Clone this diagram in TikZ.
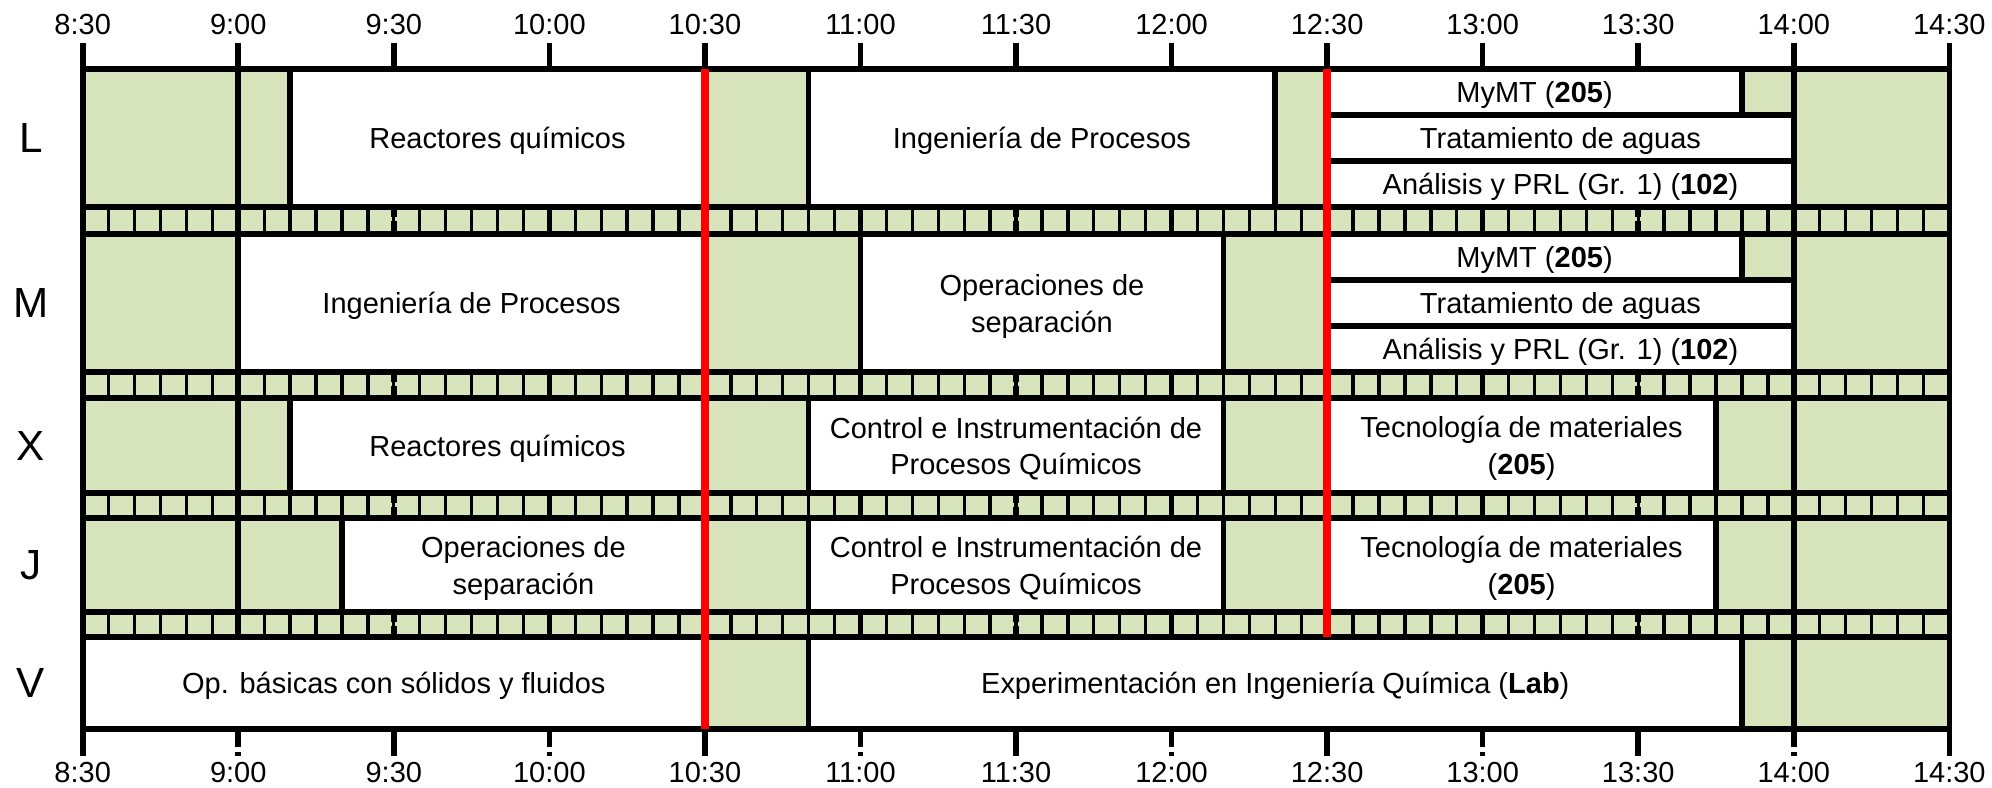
\documentclass[tikz,border=0pt]{standalone}
\usepackage{fontspec}
\setmainfont{Liberation Sans}
\definecolor{verde}{RGB}{216,228,188}

\begin{document}
\begin{tikzpicture}[x=0.1037cm,y=-0.02cm,
    linea/.style={line width=3.2pt},
    fina/.style={line width=1.9pt},
    caja/.style={fill=white,draw=black,line width=3.2pt},
    texto/.style={align=center,font=\fontsize{16.5}{21}\selectfont},
    hora/.style={font=\fontsize{16.5}{20}\selectfont},
    dia/.style={font=\fontsize{24}{28}\selectfont},
    pausa/.style={draw=red,line width=4.6pt}]
   \useasboundingbox (-15.95,0) rectangle (368.23,787);
   % fondo
   \fill[verde] (0,69) rectangle (360,729);
   % asignaturas
   \foreach \n/\a/\b/\u/\v/\t in {
      lReac/40/120/69/207/{Reactores químicos},
      lIngP/140/230/69/207/{Ingeniería de Procesos},
      lMymt/240/320/69/115/{MyMT (\textbf{205})},
      lTrat/240/330/115/161/{Tratamiento de aguas},
      lAnal/240/330/161/207/{Análisis y PRL (Gr. 1) (\textbf{102})},
      mIngP/30/120/234/372/{Ingeniería de Procesos},
      mOper/150/220/234/372/{Operaciones de\\separación},
      mMymt/240/320/234/280/{MyMT (\textbf{205})},
      mTrat/240/330/280/326/{Tratamiento de aguas},
      mAnal/240/330/326/372/{Análisis y PRL (Gr. 1) (\textbf{102})},
      xReac/40/120/398/493/{Reactores químicos},
      xCont/140/220/398/493/{Control e Instrumentación de\\Procesos Químicos},
      xTecn/240/315/398/493/{Tecnología de materiales\\(\textbf{205})},
      jOper/50/120/518/612/{Operaciones de\\separación},
      jCont/140/220/518/612/{Control e Instrumentación de\\Procesos Químicos},
      jTecn/240/315/518/612/{Tecnología de materiales\\(\textbf{205})},
      vOpBa/0/120/637/729/{Op. básicas con sólidos y fluidos},
      vExpe/140/320/637/729/{Experimentación en Ingeniería Química (\textbf{Lab})}}
   {
      \draw[caja] (\a,\u) rectangle (\b,\v);
      \node[texto] (\n) at ({(\a+\b)/2},{(\u+\v)/2+3}) {\t};
   }
   % descansos
   \foreach \y/\z in {207/234,372/398,493/518,612/637} {
      \foreach \m in {5,10,...,355}
         \draw[fina] (\m,\y) -- (\m,\z);
      \foreach \m in {30,90,...,330}
         \draw[linea] (\m,\y) -- (\m,\z);
      \foreach \m in {60,180,300}
         \draw[linea,dash pattern=on 5.5pt off 2.5pt] (\m,\y) -- (\m,\z);
   }
   % separadores
   \foreach \y/\z in {69/207,398/493,518/612}
      \draw[linea] (30,\y) -- (30,\z);
   \foreach \y/\z in {69/207,234/372,398/493,518/612,637/729}
      \draw[linea] (330,\y) -- (330,\z);
   \foreach \y in {69,207,234,372,398,493,518,612,637,729}
      \draw[linea] (0,\y) -- (360,\y);
   \draw[linea] (0,69) rectangle (360,729);
   % horas
   \foreach \t [count=\i from 0] in {8:30,9:00,9:30,10:00,10:30,11:00,11:30,12:00,12:30,13:00,13:30,14:00,14:30} {
      \draw[linea] (\i*30,43) -- (\i*30,69);
      \node[hora] (arr\i) at (\i*30,25) {\t};
      \node[hora] (aba\i) at (\i*30,772) {\t};
   }
   \foreach \m in {0,60,...,360}
      \draw[linea] (\m,729) -- (\m,756);
   \foreach \m in {30,90,...,330}
      \draw[linea,dash pattern=on 10.2pt off 2.8pt on 3pt] (\m,729) -- (\m,756);
   % dias
   \foreach \d/\y in {L/138,M/303,X/445.5,J/565,V/683}
      \node[dia] (dia\d) at (-10,\y) {\d};
   % limites
   \draw[pausa] (120,69) -- (120,729);
   \draw[pausa] (240,69) -- (240,637);
\end{tikzpicture}
\end{document}
